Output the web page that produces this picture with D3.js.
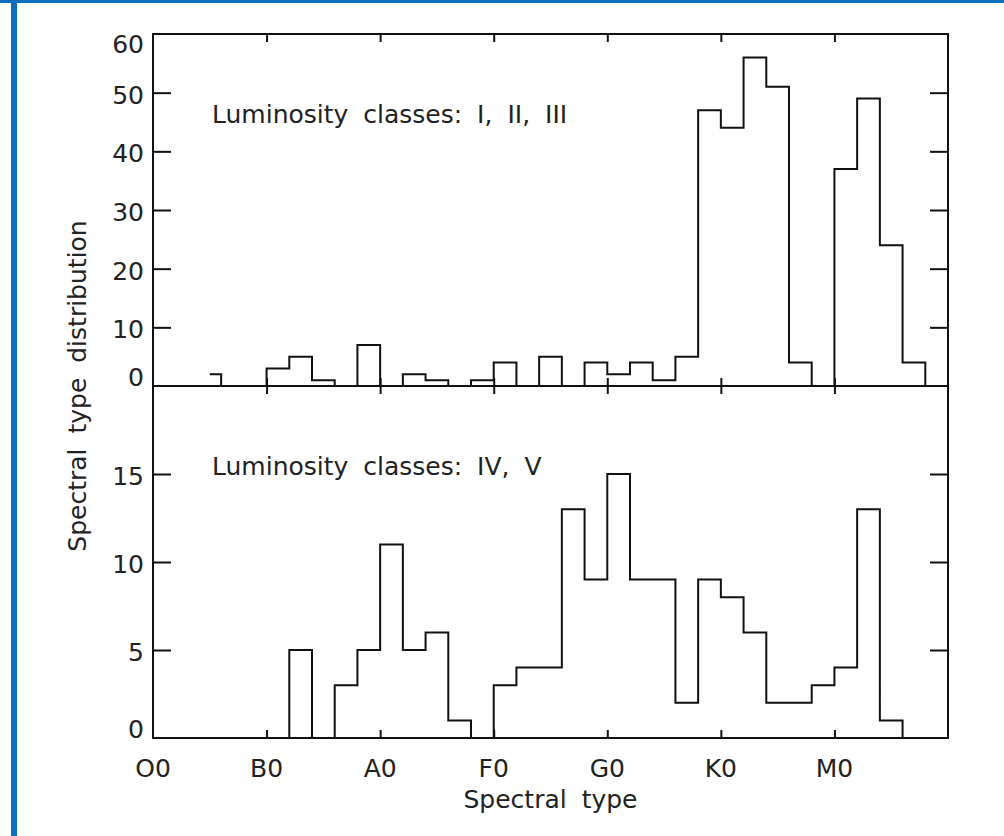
<!DOCTYPE html>
<html>
<head>
<meta charset="utf-8">
<script src="https://cdn.jsdelivr.net/npm/d3@7"></script>
<style>
  body { margin: 0; background: #fff; }
  text { font-family: "DejaVu Sans", sans-serif; font-size: 25px; fill: #222; word-spacing: 7px; }
</style>
</head>
<body>
<svg id="chart"></svg>
<script>
// bin centres in spectral-class units (O0 = 0, B0 = 1, ... M0 = 6)
const binCenters = [0.5, 0.7, 0.9, 1.1, 1.3, 1.5, 1.7, 1.9, 2.1, 2.3, 2.5,
                    2.7, 2.9, 3.1, 3.3, 3.5, 3.7, 3.9, 4.1, 4.3, 4.5, 4.7,
                    4.9, 5.1, 5.3, 5.5, 5.7, 5.9, 6.1, 6.3, 6.5, 6.7, 6.9];

// luminosity classes I, II, III
const giantCounts = [2, 0, 0, 3, 5, 1, 0, 7, 0, 2, 1,
                     0, 1, 4, 0, 5, 0, 4, 2, 4, 1, 5,
                     47, 44, 56, 51, 4, 0, 37, 49, 24, 4, 0];

// luminosity classes IV, V
const dwarfCounts = [0, 0, 0, 0, 5, 0, 3, 5, 11, 5, 6,
                     1, 0, 3, 4, 4, 13, 9, 15, 9, 9, 2,
                     9, 8, 6, 2, 2, 3, 4, 13, 1, 0, 0];

const spectralTicks = [0, 1, 2, 3, 4, 5, 6];
const spectralLabels = ["O0", "B0", "A0", "F0", "G0", "K0", "M0"];
const giantTicks = [0, 10, 20, 30, 40, 50, 60];
const dwarfTicks = [0, 5, 10, 15];

const W = 1004, H = 836;
const plotL = 153, plotR = 948, plotT = 34, plotM = 386, plotB = 738;

const svg = d3.select("#chart")
    .attr("width", W)
    .attr("height", H);

svg.append("rect").attr("width", W).attr("height", H).attr("fill", "#fff");

// blue page border (left and top)
svg.append("rect").attr("x", 11).attr("y", 0).attr("width", 6).attr("height", H).attr("fill", "#0a6fbe");
svg.append("rect").attr("x", 0).attr("y", 0).attr("width", W).attr("height", 3).attr("fill", "#0a6fbe");

const x = d3.scaleLinear().domain([0, 7]).range([plotL, plotR]);

function panel(counts, yMax, ticks, y0, y1, label) {
    const y = d3.scaleLinear().domain([0, yMax]).range([y1, y0]);
    const g = svg.append("g");

    // histogram, IDL psym=10 style
    g.append("path")
        .datum(binCenters.map((c, i) => [c, counts[i]]))
        .attr("fill", "none")
        .attr("stroke", "#111")
        .attr("stroke-width", 2)
        .attr("d", d3.line().x(d => x(d[0])).y(d => y(d[1])).curve(d3.curveStep));

    // ticks on all four sides, pointing inward
    const inner = ticks.filter(t => t > 0 && t < yMax);
    g.append("g").attr("transform", `translate(${plotL},0)`)
        .call(d3.axisLeft(y).tickValues(inner).tickSize(-18).tickFormat(""))
        .call(a => a.select(".domain").remove());
    g.append("g").attr("transform", `translate(${plotR},0)`)
        .call(d3.axisRight(y).tickValues(inner).tickSize(-18).tickFormat(""))
        .call(a => a.select(".domain").remove());
    g.append("g").attr("transform", `translate(0,${y0})`)
        .call(d3.axisTop(x).tickValues(spectralTicks.slice(1)).tickSize(-8).tickFormat(""))
        .call(a => a.select(".domain").remove());
    g.append("g").attr("transform", `translate(0,${y1})`)
        .call(d3.axisBottom(x).tickValues(spectralTicks.slice(1)).tickSize(-8).tickFormat(""))
        .call(a => a.select(".domain").remove());
    g.selectAll(".tick line").attr("stroke", "#111").attr("stroke-width", 2);

    // y tick labels (end labels nudged inward)
    g.selectAll(".ylab")
        .data(ticks)
        .join("text")
        .attr("x", plotL - 9)
        .attr("y", t => y(t) + (t === 0 ? 0 : t === yMax ? 19 : 11))
        .attr("text-anchor", "end")
        .text(t => t);

    g.append("rect")
        .attr("x", plotL).attr("y", y0)
        .attr("width", plotR - plotL).attr("height", y1 - y0)
        .attr("fill", "none").attr("stroke", "#111").attr("stroke-width", 2);

    g.append("text").attr("x", 212).attr("y", y0 + 89).text(label);
}

panel(giantCounts, 60, giantTicks, plotT, plotM, "Luminosity classes: I, II, III");
panel(dwarfCounts, 20, dwarfTicks, plotM, plotB, "Luminosity classes: IV, V");

svg.selectAll(".xlab")
    .data(spectralTicks)
    .join("text")
    .attr("x", d => x(d))
    .attr("y", 777)
    .attr("text-anchor", "middle")
    .text((d, i) => spectralLabels[i]);

svg.append("text")
    .attr("x", (plotL + plotR) / 2)
    .attr("y", 808)
    .attr("text-anchor", "middle")
    .text("Spectral type");

svg.append("text")
    .attr("transform", `translate(86,${(plotT + plotB) / 2}) rotate(-90)`)
    .attr("text-anchor", "middle")
    .text("Spectral type distribution");
</script>
</body>
</html>
